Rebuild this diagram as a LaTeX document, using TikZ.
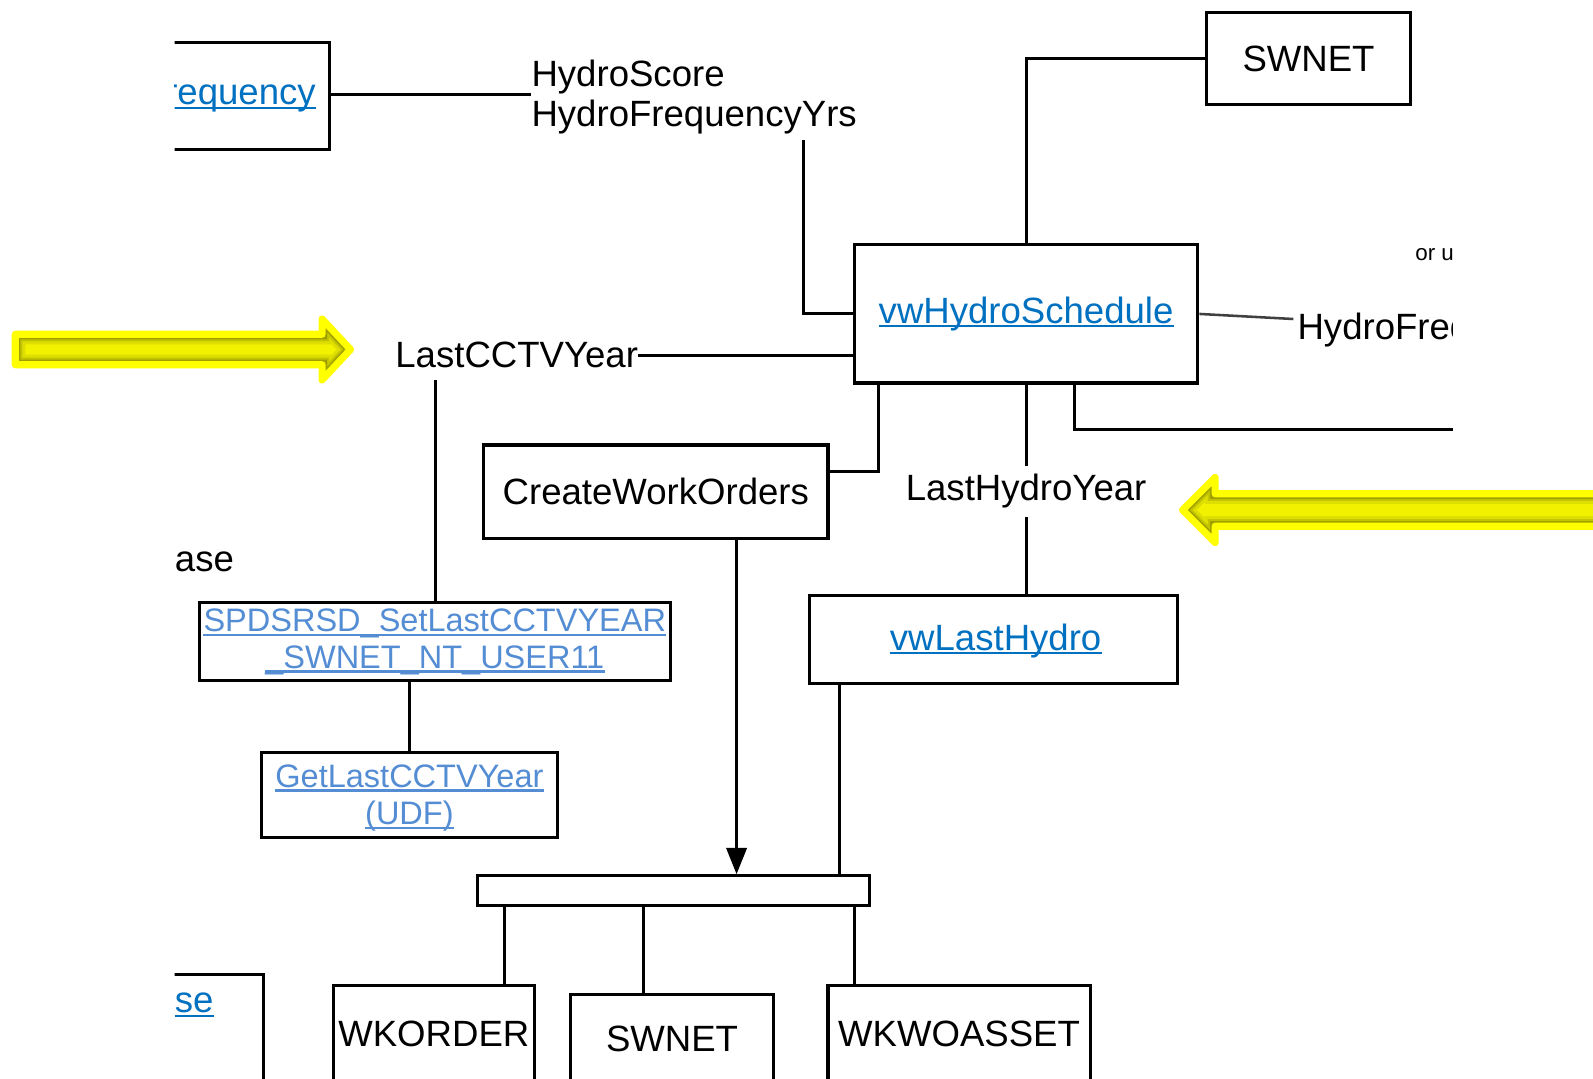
\documentclass[tikz,border=0pt]{standalone}
\usepackage{fontspec}
\setmainfont{Liberation Sans}
\usetikzlibrary{arrows.meta}
\definecolor{linkdeep}{RGB}{0,112,192}
\definecolor{linklight}{RGB}{84,141,212}
\definecolor{ylwRim}{RGB}{255,255,0}
\definecolor{ylwBright}{RGB}{242,242,0}
\definecolor{ylwLight}{RGB}{222,222,0}
\definecolor{ylwMid}{RGB}{195,195,0}
\definecolor{ylwDark}{RGB}{160,160,0}
\newcommand\yarrowL{(15,329) -- (317,329) -- (317,314) -- (345,344) -- (317,374) -- (317,359) -- (15,359) -- cycle}
\newcommand\yarrowR{(1610,486) -- (1196,486) -- (1196,470) -- (1164,502) -- (1196,534) -- (1196,518) -- (1610,518) -- cycle}
\newcommand\drawyarrow[1]{%
  \begin{scope}
    \clip #1;
    \fill[ylwBright] #1;
    \draw[ylwLight,line width=20pt] #1;
    \draw[ylwMid,line width=14pt] #1;
    \draw[ylwDark,line width=10pt] #1;
  \end{scope}
  \draw[ylwRim,line width=7pt,line join=round] #1;}
\begin{document}
\begin{tikzpicture}[x=1pt,y=-1pt,
  wire/.style={line width=3pt},
  box/.style={draw, line width=3pt, inner sep=0pt, font=\fontsize{36pt}{40pt}\selectfont},
  txt/.style={inner sep=0pt, font=\fontsize{36pt}{40pt}\selectfont},
  lnk/.style={txt, text=linkdeep},
  lnks/.style={inner sep=0pt, font=\fontsize{32pt}{36pt}\selectfont, text=linklight}]
\useasboundingbox (0,0) rectangle (1568,1062);
\begin{scope}
\clip (172,0) rectangle (1430,1062);
% boxes and texts
\node[box, minimum width=224pt, minimum height=105pt] (freq) at (212,94.5) {};
\node[lnk, anchor=base east] (freqT) at (311,103) {requency};
\node[box, minimum width=159pt, minimum height=107pt] (dbx) at (179.5,1012.5) {};
\node[lnk, anchor=base west] (dbxT) at (172,997) {se};
\node[txt, anchor=base west] (hs1) at (523,85) {HydroScore};
\node[txt, anchor=base west] (hs2) at (523,125) {HydroFrequencyYrs};
\node[box, minimum width=200pt, minimum height=91pt] (sw1) at (1288,57.5) {SWNET};
\node[box, minimum width=338pt, minimum height=136pt] (sched) at (1010,309) {};
\node[lnk, anchor=base] (schedT) at (1010,318) {vwHydroSchedule};
\node[txt, anchor=base west] (lcy) at (389,362) {LastCCTVYear};
\node[txt, anchor=base west] (hf) at (1277,334) {HydroFrequency};
\node[inner sep=0pt, font=\fontsize{22pt}{24pt}\selectfont, anchor=base west] (orT) at (1393,256) {or use};
\node[box, minimum width=339pt, minimum height=92pt] (cwo) at (645.5,484) {CreateWorkOrders};
\node[txt, anchor=base, inner sep=8pt] (lhy) at (1010,493) {LastHydroYear};
\node[box, minimum width=362pt, minimum height=87pt] (lastH) at (978,629.5) {};
\node[lnk, anchor=base] (lastHT) at (980,640) {vwLastHydro};
\node[txt, anchor=base west] (aseT) at (172,563) {ase};
\node[box, minimum width=464pt, minimum height=77pt] (spd) at (428,631.5) {};
\node[lnks, anchor=base] (spdT1) at (428,622) {SPDSRSD\_SetLastCCTVYEAR};
\node[lnks, anchor=base] (spdT2) at (428,658) {\_SWNET\_NT\_USER11};
\node[box, minimum width=292pt, minimum height=83pt] (getl) at (403,782.5) {};
\node[lnks, anchor=base] (getlT1) at (403,775) {GetLastCCTVYear};
\node[lnks, anchor=base] (getlT2) at (403,812) {(UDF)};
\node[box, minimum width=386pt, minimum height=29pt] (bar) at (663,876.5) {};
\node[box, minimum width=198pt, minimum height=96pt] (wko) at (427,1018) {WKORDER};
\node[box, minimum width=199pt, minimum height=87pt] (sw2) at (661.5,1022.5) {SWNET};
\node[box, minimum width=258pt, minimum height=96pt] (wkw) at (944,1018) {WKWOASSET};
% underlines
\foreach \nn/\col in {freqT/linkdeep, dbxT/linkdeep, schedT/linkdeep, lastHT/linkdeep, spdT1/linklight, spdT2/linklight, getlT1/linklight, getlT2/linklight}
  \draw[color=\col, line width=2.2pt] ([yshift=-3pt]\nn.base west) -- ([yshift=-3pt]\nn.base east);
% connectors
\draw[wire] (freq.east |- hs1.south) -- (hs1.south west);
\coordinate (kA) at (791,138);
\draw[wire] (kA) |- (sched.west);
\draw[wire] (lcy.east) -- (lcy.east -| sched.west);
\draw[wire] (sched.north) |- (sw1.west);
\coordinate (kB) at (865,464);
\draw[wire] (sched.south -| kB) -- (kB) -- (kB -| cwo.east);
\coordinate (kC) at (1058,423);
\coordinate (kCe) at (1440,423);
\draw[wire] (sched.south -| kC) -- (kC) -- (kCe);
\draw[wire] (sched.south) -- (lhy.north);
\draw[wire] (lhy.south) -- (lhy.south |- lastH.north);
\coordinate (kD) at (1273,314);
\draw[wire, black!75, line width=2.5pt] (sched.east) -- (kD);
\coordinate (kE) at (429,374);
\draw[wire] (kE) -- (kE |- spd.north);
\draw[wire] (getl.north) -- (getl.north |- spd.south);
\coordinate (kF) at (725,700);
\draw[wire, -{Triangle[length=26pt,width=20pt]}] (cwo.south -| kF) -- (bar.north -| kF);
\coordinate (kG) at (826,760);
\draw[wire] (lastH.south -| kG) -- (bar.north -| kG);
\coordinate (kH) at (497,930);
\coordinate (kI) at (633,930);
\coordinate (kJ) at (841,930);
\draw[wire] (bar.south -| kH) -- (wko.north -| kH);
\draw[wire] (bar.south -| kI) -- (sw2.north -| kI);
\draw[wire] (bar.south -| kJ) -- (wkw.north -| kJ);
\end{scope}
% yellow highlight arrows
\drawyarrow{\yarrowL}
\drawyarrow{\yarrowR}
\end{tikzpicture}
\end{document}
